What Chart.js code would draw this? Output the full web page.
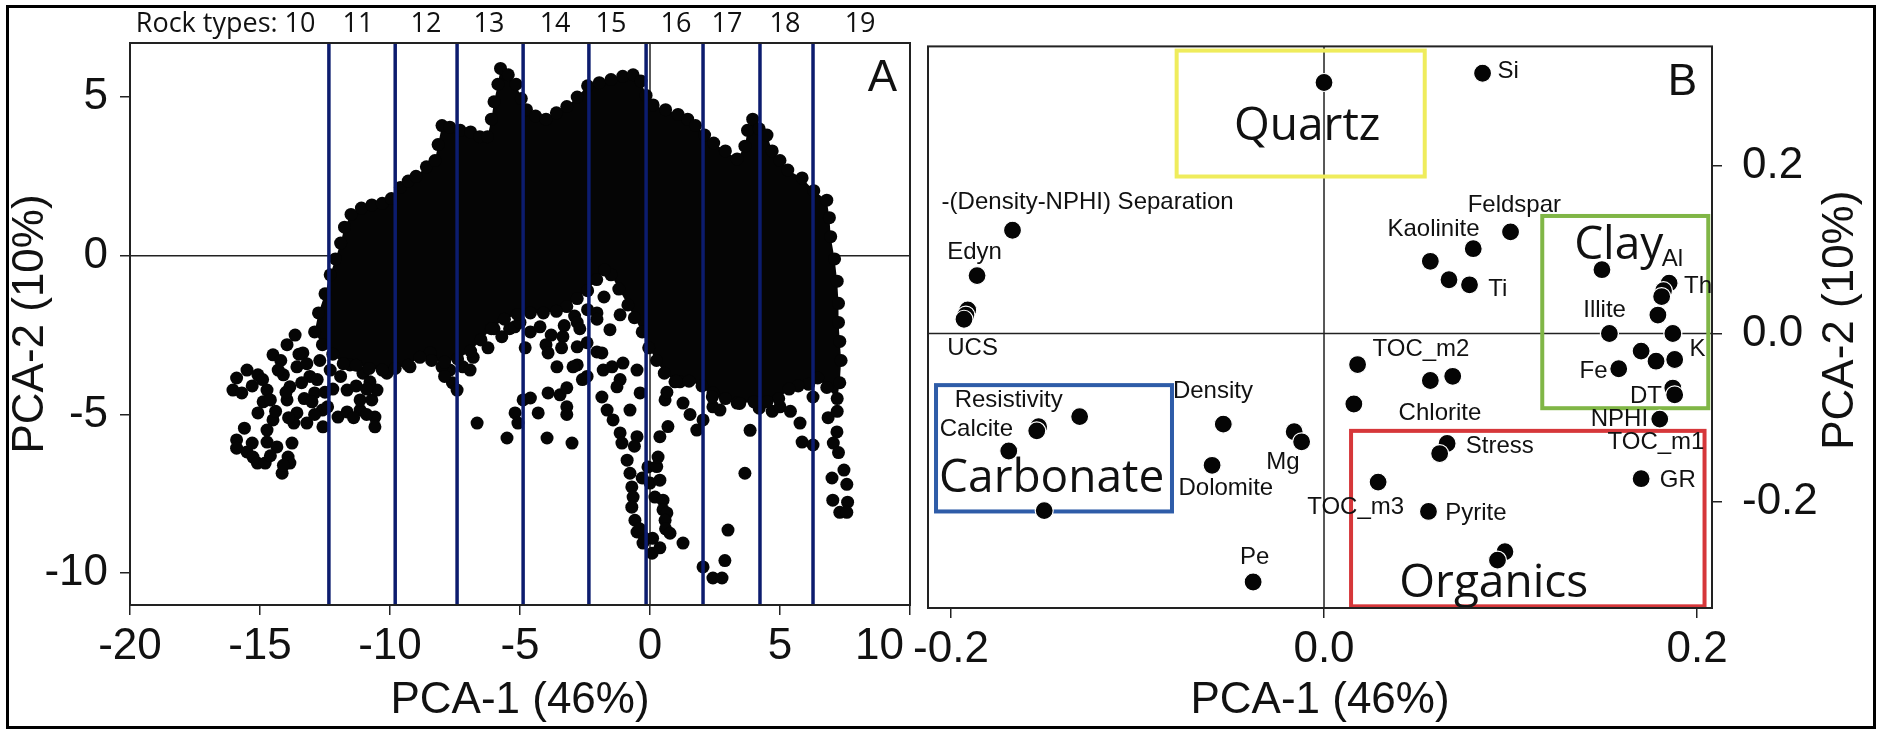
<!DOCTYPE html>
<html>
<head>
<meta charset="utf-8">
<script src="https://cdn.jsdelivr.net/npm/chart.js@4.4.0/dist/chart.umd.min.js"></script>
<style>
  html, body { margin: 0; padding: 0; background: #fff; }
  #wrap { position: relative; width: 1883px; height: 730px; background: #fff; overflow: hidden; }
  #chartA { position: absolute; left: 0; top: 0; }
  #chartB { position: absolute; left: 870px; top: 0; }
  #frame { position: absolute; left: 6px; top: 5px; width: 1870px; height: 724px; box-sizing: border-box; border: 3px solid #000; pointer-events: none; }
</style>
</head>
<body>
<div id="wrap">
  <canvas id="chartA" width="1010" height="730"></canvas>
  <canvas id="chartB" width="1013" height="730"></canvas>
  <div id="frame"></div>
</div>
<script>
// ===== Panel A : PCA scores =====
const rockTypes = ['10', '11', '12', '13', '14', '15', '16', '17', '18', '19'];
const rockTypeCentres = [-13.46, -11.23, -8.62, -6.19, -3.65, -1.5, 1.0, 2.96, 5.19, 8.08];
const rockTypeBounds = [-12.35, -9.8, -7.42, -4.88, -2.35, -0.15, 2.04, 4.23, 6.27];
const ticksAX = [-20, -15, -10, -5, 0, 5, 10];
const ticksAY = [-10, -5, 0, 5];

// outline of the dense core (scores on the edge of the cloud)
const blobEdge = [
  [-12.9, -2.4], [-12.75, -1.8], [-12.5, -1.2], [-12.3, -0.6], [-12.1, -0.1], [-11.9, 0.4], [-11.75, 0.9], [-11.5, 1.3],
  [-11.1, 1.5], [-10.7, 1.6], [-10.3, 1.65], [-9.95, 1.8], [-9.6, 2.15], [-9.3, 2.35], [-9.0, 2.5], [-8.6, 2.8],
  [-8.27, 3.0], [-8.15, 3.5], [-8.0, 4.1], [-7.7, 4.05], [-7.3, 3.95], [-6.9, 3.9], [-6.55, 3.75], [-6.25, 3.75],
  [-6.1, 4.3], [-6.0, 4.85], [-5.85, 5.4], [-5.75, 5.9], [-5.45, 5.7], [-5.15, 5.4], [-4.95, 4.95], [-4.75, 4.6],
  [-4.4, 4.4], [-4.0, 4.3], [-3.6, 4.5], [-3.2, 4.7], [-2.8, 5.0], [-2.4, 5.35], [-1.95, 5.45], [-1.5, 5.55],
  [-1.05, 5.65], [-0.65, 5.7], [-0.35, 5.5], [-0.15, 5.05], [0.12, 4.75], [0.6, 4.6], [1.08, 4.45], [1.45, 4.3],
  [1.75, 4.1], [2.1, 3.8], [2.45, 3.55], [2.9, 3.3], [3.35, 3.05], [3.65, 3.45], [3.75, 3.95], [3.95, 4.3],
  [4.2, 4.0], [4.5, 3.8], [4.7, 3.3], [5.0, 3.0], [5.3, 2.7], [5.85, 2.45], [6.3, 2.05], [6.8, 1.75],
  [6.9, 1.2], [6.95, 0.6], [7.1, -0.1], [7.2, -0.8], [7.25, -1.5], [7.25, -2.1], [7.3, -2.7], [7.35, -3.3],
  [7.3, -4.0], [7.2, -4.5], [6.8, -4.15], [6.45, -3.85], [6.1, -4.05], [5.7, -4.1], [5.35, -4.2], [4.95, -4.5],
  [4.5, -4.6], [4.0, -4.6], [3.45, -4.65], [2.9, -4.5], [2.4, -4.45], [2.0, -4.1], [1.5, -3.95], [1.0, -3.95],
  [0.55, -3.7], [0.25, -3.3], [-0.05, -2.9], [-0.3, -2.4], [-0.6, -1.95], [-0.85, -1.55], [-1.2, -1.05], [-1.5, -0.6],
  [-1.75, -0.45], [-2.05, -0.75], [-2.4, -1.1], [-2.8, -1.35], [-3.2, -1.6], [-3.6, -1.75], [-4.1, -1.8], [-4.6, -1.8],
  [-5.1, -1.85], [-5.6, -2.0], [-6.1, -2.3], [-6.5, -2.65], [-6.9, -3.0], [-7.4, -3.25], [-7.9, -3.35], [-8.4, -3.3],
  [-8.85, -3.2], [-9.3, -3.45], [-9.8, -3.55], [-10.3, -3.6], [-10.8, -3.55], [-11.3, -3.45], [-11.8, -3.4], [-12.2, -3.1],
  [-12.6, -2.8]
];

// scattered scores outside the core
const scoresA = [
  [-13.65, -2.5], [-13.96, -2.8], [-14.5, -3.12], [-14.2, -3.3], [-15.5, -3.6], [-15.08, -3.75], [-15.9, -3.85], [-16.04, -4.23],
  [-15.7, -4.32], [-14.73, -4.23], [-14.88, -4.6], [-15.08, -4.95], [-14.6, -4.54], [-14.1, -3.75], [-13.85, -4.13], [-13.58, -3.5],
  [-13.35, -3.06], [-13.08, -3.8], [-12.9, -4.32], [-12.6, -4.86], [-12.4, -4.76], [-12.0, -5.08], [-13.96, -4.54], [-13.58, -4.95],
  [-13.7, -5.27], [-13.2, -5.27], [-12.58, -5.39], [-15.6, -5.43], [-14.5, -5.17], [-14.73, -5.49], [-14.73, -5.87], [-15.9, -5.8],
  [-15.9, -6.06], [-15.5, -6.18], [-15.27, -6.34], [-15.1, -6.53], [-14.8, -6.53], [-14.35, -6.02], [-13.92, -6.34], [-13.85, -6.53],
  [-14.15, -6.85], [-13.77, -5.9], [-13.3, -4.5], [-12.2, -4.2], [-11.9, -3.8], [-12.3, -3.6], [-12.7, -3.3],
  [-14.3, -3.6], [-14.0, -4.3], [-13.4, -4.0], [-13.2, -3.4], [-12.8, -3.9], [-12.5, -4.3], [-14.9, -3.9], [-15.3, -4.1],
  [-14.4, -4.9], [-13.9, -5.1], [-12.9, -5.0], [-15.3, -5.9], [-14.6, -6.3], [-14.1, -6.6], [-13.5, -3.1], [-13.0, -4.6],
  [-11.65, -4.23], [-11.65, -4.92], [-11.15, -4.86], [-11.15, -4.54], [-10.7, -4.54], [-10.58, -5.08], [-10.58, -5.39], [-10.5, -4.23],
  [-11.54, -3.44], [-11.04, -3.7], [-10.77, -3.97], [-10.12, -3.7], [-9.23, -3.5], [-11.3, -4.1], [-10.9, -4.2], [-11.4, -5.1],
  [-10.9, -5.0],
  [-8.46, -3.06], [-7.7, -3.6], [-7.2, -3.5], [-6.8, -3.2], [-7.6, -4.0], [-7.42, -4.23], [-6.92, -3.6], [-6.65, -5.27],
  [-8.0, -3.5], [-7.9, -3.8],
  [-6.23, -2.9], [-6.0, -2.3], [-5.7, -2.55], [-5.4, -2.3], [-5.2, -2.24], [-5.0, -2.1], [-4.8, -2.9], [-4.6, -2.4],
  [-4.23, -2.24], [-4.0, -2.8], [-3.8, -2.5], [-3.35, -2.55], [-3.3, -2.2], [-3.4, -2.9], [-2.9, -1.9], [-2.8, -2.1],
  [-2.7, -2.3], [-2.4, -1.7], [-2.04, -1.8], [-1.77, -1.3], [-1.15, -1.86], [-1.54, -2.33], [-2.04, -2.0], [-2.42, -2.74],
  [-2.8, -2.87], [-2.04, -3.03], [-2.8, -3.44], [-2.42, -3.8], [-1.8, -3.6], [-1.85, -3.06], [-1.46, -3.5], [-1.15, -3.9],
  [-1.04, -3.38], [-0.5, -3.6], [-0.38, -4.32], [-1.27, -4.13], [-1.85, -4.45], [-1.65, -4.86], [-1.42, -5.17], [-1.15, -5.58],
  [-1.08, -5.9], [-0.77, -4.86], [-0.5, -5.7], [-5.5, -5.74], [-5.19, -4.95], [-5.08, -5.27], [-4.88, -4.54], [-4.6, -4.48],
  [-4.3, -4.95], [-3.96, -5.74], [-3.92, -3.06], [-3.58, -3.5], [-3.92, -4.32], [-3.46, -4.38], [-3.2, -4.16], [-3.2, -4.76],
  [-3.2, -5.0], [-3.0, -5.9], [-2.96, -3.5], [-2.6, -3.9],
  [-0.88, -6.44], [-0.6, -6.0], [-0.77, -6.85], [-0.7, -7.28], [-0.65, -7.6], [-0.7, -7.92], [-0.58, -8.33], [-0.5, -8.7],
  [-0.27, -9.05], [-0.2, -8.9], [0.08, -9.37], [0.38, -9.2], [0.1, -8.9], [-0.08, -6.65], [0.0, -7.16], [-0.3, -7.0],
  [0.19, -7.6], [0.26, -6.64], [0.31, -6.34], [0.38, -7.07], [0.5, -7.7], [0.5, -8.0], [0.65, -8.1], [0.58, -8.33],
  [0.6, -8.6], [0.77, -8.74], [0.38, -5.7], [0.69, -5.38], [1.27, -9.05], [-0.4, -8.6],
  [0.58, -4.54], [0.65, -4.3], [1.15, -3.97], [0.96, -3.97], [1.27, -4.64], [1.54, -5.0], [1.8, -5.49], [2.04, -5.17],
  [2.42, -4.76], [2.42, -4.32], [2.69, -4.86], [3.35, -4.64], [3.85, -5.5], [3.65, -6.85], [3.0, -8.64], [2.88, -9.6],
  [2.04, -9.8], [2.42, -10.15], [2.77, -10.15], [4.2, -4.8], [4.7, -4.9], [5.0, -4.76], [5.4, -4.9], [5.77, -5.27],
  [5.85, -5.87], [6.27, -5.96], [6.27, -4.45], [6.85, -5.1], [7.2, -4.9], [7.19, -5.55], [7.05, -5.9], [7.25, -6.2],
  [7.46, -6.75], [7.0, -7.0], [7.57, -7.2], [7.03, -7.7], [7.6, -7.76], [7.3, -8.08], [7.57, -8.08]
];

// ===== Panel B : PCA loadings =====
const ticksBX = [-0.2, 0.0, 0.2];
const ticksBY = [-0.2, 0.0, 0.2];
const loadings = [
  [0.000, 0.299], [0.085, 0.310], [-0.167, 0.123], [-0.186, 0.069], [-0.191, 0.028], [-0.192, 0.022], [-0.193, 0.017],
  [0.100, 0.121], [0.080, 0.101], [0.057, 0.086], [0.067, 0.064], [0.078, 0.058], [0.149, 0.076], [0.185, 0.060],
  [0.182, 0.051], [0.181, 0.044], [0.179, 0.022], [0.153, 0.000], [0.187, 0.000], [0.170, -0.021], [0.178, -0.033],
  [0.188, -0.031], [0.158, -0.042], [0.018, -0.037], [0.057, -0.056], [0.069, -0.051], [0.187, -0.065], [0.188, -0.073],
  [0.016, -0.084], [0.180, -0.102], [0.170, -0.173], [0.066, -0.131], [0.062, -0.143], [0.029, -0.177], [0.056, -0.212],
  [0.097, -0.260], [0.093, -0.270], [-0.038, -0.296], [-0.054, -0.108], [-0.016, -0.117], [-0.012, -0.129], [-0.060, -0.157],
  [-0.131, -0.099], [-0.153, -0.111], [-0.154, -0.116], [-0.169, -0.140], [-0.150, -0.211]
];
const varNames = ['-(Density-NPHI) Separation', 'Edyn', 'UCS', 'Si', 'Feldspar', 'Kaolinite', 'Ti', 'Al', 'Th', 'Illite',
  'K', 'TOC_m2', 'Fe', 'DT', 'Chlorite', 'NPHI', 'TOC_m1', 'Stress', 'GR', 'TOC_m3', 'Pyrite', 'Pe', 'Density', 'Mg',
  'Dolomite', 'Resistivity', 'Calcite'];
const varNameX = [-0.205, -0.202, -0.202, 0.093, 0.077, 0.034, 0.088, 0.181, 0.193, 0.139,
  0.196, 0.026, 0.137, 0.164, 0.040, 0.143, 0.152, 0.076, 0.180, -0.009, 0.065, -0.045, -0.081, -0.031,
  -0.078, -0.198, -0.206];
const varNameY = [0.156, 0.097, -0.018, 0.312, 0.153, 0.124, 0.052, 0.088, 0.056, 0.028,
  -0.019, -0.019, -0.045, -0.075, -0.095, -0.102, -0.130, -0.135, -0.175, -0.207, -0.214, -0.267, -0.069, -0.154,
  -0.185, -0.080, -0.114];
const groupNames = ['Quartz', 'Clay', 'Carbonate', 'Organics'];
// box extents [xMin, xMax, yMin, yMax] and label anchor [x, baseline y]
const groupBoxes = [[-0.079, 0.054, 0.187, 0.337], [0.117, 0.206, -0.089, 0.140], [-0.208, -0.0815, -0.212, -0.0615], [0.0145, 0.204, -0.325, -0.116]];
const groupLabelAt = [[-0.009, 0.231], [0.158, 0.089], [-0.146, -0.189], [0.091, -0.314]];

// ===== styles =====
const INK = '#050505';
const NAVY = '#0c1c6e';
const GROUP_COLORS = ['#efec5c', '#80b646', '#2e5ca8', '#d6373a'];
const ARIAL = 'Liberation Sans';
Chart.defaults.font.family = ARIAL;
Chart.defaults.color = '#111';

const toPts = arr => arr.map(([x, y]) => ({ x, y }));

function axisCommon(ticks, tickPad, fmt) {
  return {
    type: 'linear',
    afterBuildTicks: s => { s.ticks = ticks.map(v => ({ value: v })); },
    grid: { drawOnChartArea: false, drawTicks: true, tickLength: 10, color: '#222', lineWidth: 1.5 },
    border: { display: false },
    ticks: { font: { size: 44 }, color: '#111', padding: tickPad, autoSkip: false, maxRotation: 0,
      callback: fmt || (v => String(v)) }
  };
}

function drawFrame(chart) {
  const { ctx, chartArea: a } = chart;
  ctx.save();
  ctx.strokeStyle = '#222';
  ctx.lineWidth = 2;
  ctx.strokeRect(a.left, a.top, a.right - a.left, a.bottom - a.top);
  ctx.restore();
}

function drawZeroLines(chart) {
  const { ctx, chartArea: a, scales: { x, y } } = chart;
  ctx.save();
  ctx.strokeStyle = '#222';
  ctx.lineWidth = 1.5;
  ctx.beginPath();
  const y0 = y.getPixelForValue(0), x0 = x.getPixelForValue(0);
  ctx.moveTo(a.left, y0); ctx.lineTo(a.right, y0);
  ctx.moveTo(x0, a.top); ctx.lineTo(x0, a.bottom);
  ctx.stroke();
  ctx.restore();
}

// ---- plugins panel A ----
const panelAPlugin = {
  id: 'panelA',
  beforeDatasetsDraw(chart) {
    drawZeroLines(chart);
    // fill the dense core through the edge points placed by the scales
    const pts = chart.getDatasetMeta(0).data;
    const ctx = chart.ctx;
    ctx.save();
    ctx.beginPath();
    pts.forEach((p, i) => (i ? ctx.lineTo(p.x, p.y) : ctx.moveTo(p.x, p.y)));
    ctx.closePath();
    ctx.fillStyle = INK;
    ctx.fill();
    ctx.restore();
  },
  afterDatasetsDraw(chart) {
    const { ctx, chartArea: a, scales: { x } } = chart;
    ctx.save();
    ctx.strokeStyle = NAVY;
    ctx.lineWidth = 3.5;
    rockTypeBounds.forEach(v => {
      const px = x.getPixelForValue(v);
      ctx.beginPath(); ctx.moveTo(px, a.top); ctx.lineTo(px, a.bottom); ctx.stroke();
    });
    ctx.restore();
    drawFrame(chart);
  },
  afterDraw(chart) {
    const { ctx, chartArea: a, scales: { x } } = chart;
    ctx.save();
    ctx.fillStyle = '#111';
    ctx.font = '27px "Open Sans"';
    ctx.textBaseline = 'middle';
    ctx.textAlign = 'center';
    const ty = a.top - 19;
    rockTypes.forEach((t, i) => ctx.fillText(t, x.getPixelForValue(rockTypeCentres[i]), ty));
    const first = x.getPixelForValue(rockTypeCentres[0]) - ctx.measureText(rockTypes[0]).width / 2;
    ctx.textAlign = 'right';
    ctx.fillText('Rock types: ', first, ty);
    ctx.font = '44px "' + ARIAL + '"';
    ctx.textBaseline = 'alphabetic';
    ctx.fillText('A', a.right - 13, a.top + 48);
    ctx.restore();
  }
};

// ---- plugins panel B ----
const panelBPlugin = {
  id: 'panelB',
  beforeDatasetsDraw(chart) {
    drawZeroLines(chart);
    const { ctx, scales: { x, y } } = chart;
    ctx.save();
    ctx.lineWidth = 4;
    groupBoxes.forEach(([x1, x2, y1, y2], i) => {
      ctx.strokeStyle = GROUP_COLORS[i];
      const l = x.getPixelForValue(x1), r = x.getPixelForValue(x2);
      const t = y.getPixelForValue(y2), b = y.getPixelForValue(y1);
      ctx.strokeRect(l, t, r - l, b - t);
    });
    ctx.fillStyle = '#111';
    ctx.font = '46px "Open Sans"';
    ctx.textAlign = 'center';
    ctx.textBaseline = 'alphabetic';
    groupNames.forEach((n, i) => {
      ctx.fillText(n, x.getPixelForValue(groupLabelAt[i][0]), y.getPixelForValue(groupLabelAt[i][1]));
    });
    ctx.restore();
  },
  afterDatasetsDraw(chart) {
    const { ctx, scales: { x, y } } = chart;
    ctx.save();
    ctx.fillStyle = '#111';
    ctx.font = '24px "' + ARIAL + '"';
    ctx.textAlign = 'left';
    ctx.textBaseline = 'middle';
    varNames.forEach((n, i) => ctx.fillText(n, x.getPixelForValue(varNameX[i]), y.getPixelForValue(varNameY[i])));
    ctx.restore();
    drawFrame(chart);
  },
  afterDraw(chart) {
    const { ctx, chartArea: a } = chart;
    ctx.save();
    ctx.fillStyle = '#111';
    ctx.font = '44px "' + ARIAL + '"';
    ctx.textAlign = 'right';
    ctx.textBaseline = 'alphabetic';
    ctx.fillText('B', a.right - 15, a.top + 49);
    // right-hand axis title, reading bottom to top
    ctx.translate(a.right + 129, (a.top + a.bottom) / 2 - 7);
    ctx.rotate(-Math.PI / 2);
    ctx.textAlign = 'center';
    ctx.textBaseline = 'middle';
    ctx.fillText('PCA-2 (10%)', 0, 0);
    ctx.restore();
  }
};

const baseOptions = {
  responsive: false,
  animation: false,
  devicePixelRatio: 1,
  plugins: { legend: { display: false }, tooltip: { enabled: false } },
  events: []
};

// the last A tick label sits left of its tick so it clears panel B
const NBSP5 = '\u00a0\u00a0\u00a0\u00a0\u00a0';

// ===== chart A =====
new Chart(document.getElementById('chartA'), {
  type: 'scatter',
  data: {
    datasets: [
      { data: toPts(blobEdge), pointRadius: 6.5, pointBackgroundColor: INK, pointBorderWidth: 0 },
      { data: toPts(scoresA), pointRadius: 6.5, pointBackgroundColor: INK, pointBorderWidth: 0 }
    ]
  },
  options: {
    ...baseOptions,
    layout: { padding: { left: 0, right: 100, top: 43, bottom: 0 } },
    scales: {
      x: {
        ...axisCommon(ticksAX, 5, v => (v === ticksAX[ticksAX.length - 1] ? String(v) + NBSP5 : String(v))),
        min: -20, max: 10,
        afterFit: s => { s.height = 125; },
        title: { display: true, text: 'PCA-1 (46%)', font: { size: 44 }, color: '#111', padding: { top: 0, bottom: 3 } }
      },
      y: {
        ...axisCommon(ticksAY, 12),
        min: -11, max: 6.7,
        afterFit: s => { s.width = 130; },
        title: { display: true, text: 'PCA-2 (10%)', font: { size: 44 }, color: '#111', padding: { top: 4, bottom: 0 } }
      }
    }
  },
  plugins: [panelAPlugin]
});

// ===== chart B =====
new Chart(document.getElementById('chartB'), {
  type: 'scatter',
  data: {
    datasets: [
      { data: toPts(loadings), pointRadius: 9, pointBackgroundColor: INK, pointBorderColor: '#fff', pointBorderWidth: 1.2 }
    ]
  },
  options: {
    ...baseOptions,
    layout: { padding: { left: 58, right: 0, top: 43, bottom: 0 } },
    scales: {
      x: {
        ...axisCommon(ticksBX, 5, v => v.toFixed(1)),
        min: -0.2123, max: 0.208,
        afterFit: s => { s.height = 122; },
        title: { display: true, text: 'PCA-1 (46%)', font: { size: 44 }, color: '#111', padding: { top: 0, bottom: 3 } }
      },
      y: {
        ...axisCommon(ticksBY, 20, v => v.toFixed(1)),
        position: 'right',
        min: -0.327, max: 0.342,
        afterFit: s => { s.width = 171; }
      }
    }
  },
  plugins: [panelBPlugin]
});
</script>
</body>
</html>
